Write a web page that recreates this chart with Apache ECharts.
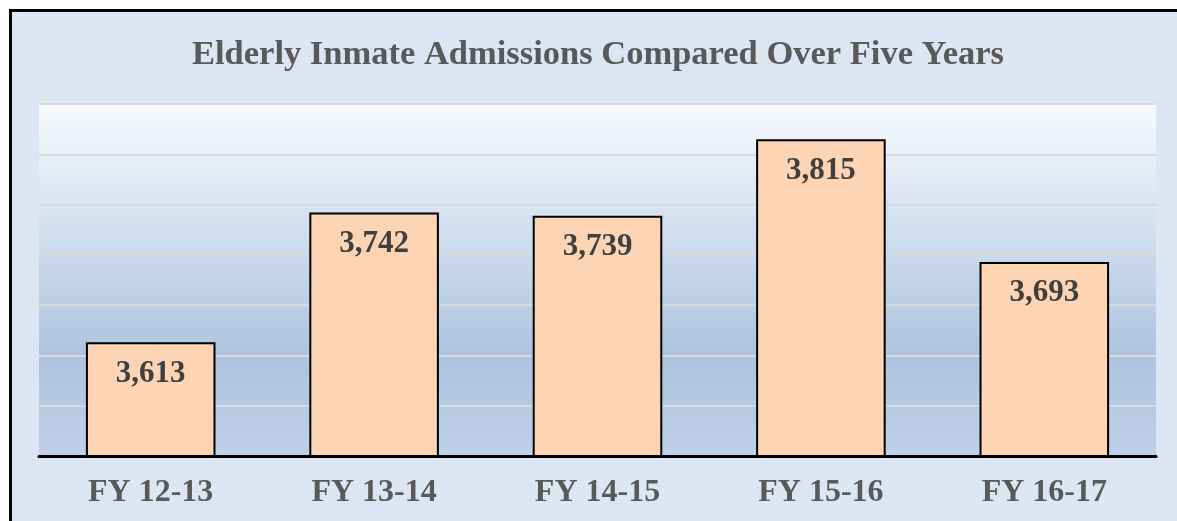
<!DOCTYPE html>
<html>
<head>
<meta charset="utf-8">
<script src="https://cdn.jsdelivr.net/npm/echarts@6/dist/echarts.min.js"></script>
<style>
    body { margin: 0; background: #ffffff; overflow: hidden; }
    .frame {
        position: absolute; left: 9px; top: 9px;
        width: 1200px; height: 540px;
        border: 3px solid #000; background: #dce6f2;
    }
    .com-chart { position: absolute; left: 0; top: 0; width: 1177px; height: 521px; }
</style>
</head>
<body>
<div class="frame"></div>
<div class="com-chart" id="chart"></div>
<script>
    // 五年间老年囚犯入狱人数
    const years = ['FY 12-13', 'FY 13-14', 'FY 14-15', 'FY 15-16', 'FY 16-17']
    const admissions = [3613, 3742, 3739, 3815, 3693]

    const chartInstance = echarts.init(document.getElementById('chart'))
    const serif = '"Liberation Serif", "DejaVu Serif", serif'

    const option = {
        title: {
            text: 'Elderly Inmate Admissions Compared Over Five Years',
            left: 187,
            top: 33,
            textStyle: { fontFamily: serif, fontSize: 34.5, fontWeight: 'bold', color: '#595959' }
        },
        grid: {
            left: 39, right: 21, top: 104, bottom: 65,
            show: true,
            borderWidth: 0,
            backgroundColor: new echarts.graphic.LinearGradient(0, 0, 0, 1, [
                { offset: 0, color: '#f7fafd' },
                { offset: 0.72, color: '#adc3df' },
                { offset: 1, color: '#bfd1e7' }
            ])
        },
        xAxis: {
            type: 'category',
            data: years,
            axisLine: { lineStyle: { color: '#000', width: 3 } },
            axisTick: { show: false },
            axisLabel: {
                margin: 21,
                fontFamily: serif, fontSize: 32, fontWeight: 'bold', color: '#595959'
            }
        },
        yAxis: {
            type: 'value',
            min: 3500, max: 3850, interval: 50,
            axisLabel: { show: false },
            axisLine: { show: false },
            axisTick: { show: false },
            splitLine: { lineStyle: { color: '#d9d9d9', width: 2 } }
        },
        series: [
            {
                type: 'bar',
                data: admissions,
                barWidth: '58%',
                itemStyle: { color: '#fdd5b4', borderColor: '#000', borderWidth: 2 },
                label: {
                    show: true,
                    position: 'insideTop',
                    distance: 16,
                    formatter: p => p.value.toLocaleString('en-US'),
                    fontFamily: serif, fontSize: 31, fontWeight: 'bold', color: '#404040'
                }
            }
        ]
    }
    chartInstance.setOption(option)
</script>
</body>
</html>
